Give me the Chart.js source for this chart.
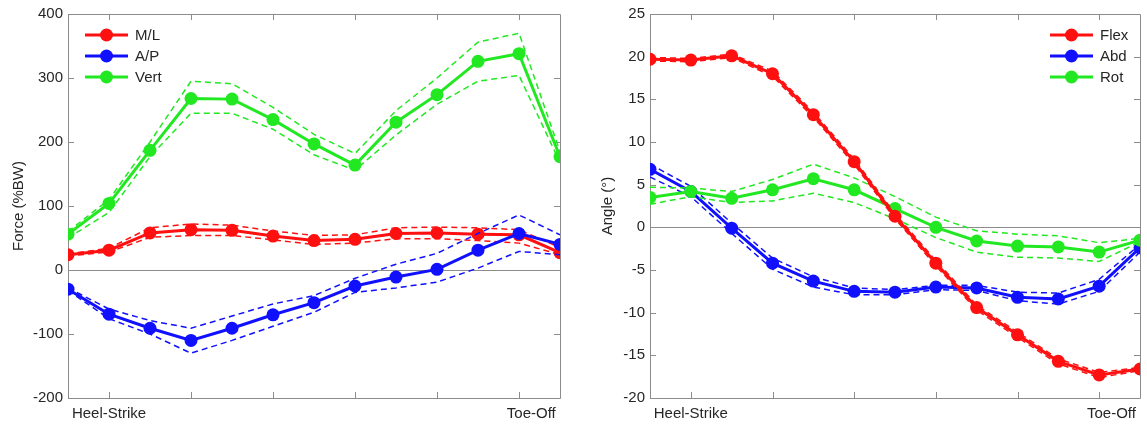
<!DOCTYPE html>
<html>
<head>
<meta charset="utf-8">
<script src="https://cdn.jsdelivr.net/npm/chart.js@4.4.1/dist/chart.umd.min.js"></script>
<style>
  body { margin: 0; background: #fff; }
  #wrap { position: relative; width: 1147px; height: 427px; }
  canvas { position: absolute; top: 0; }
</style>
</head>
<body>
<div id="wrap">
  <canvas id="forceChart" width="575" height="427" style="left:0"></canvas>
  <canvas id="angleChart" width="572" height="427" style="left:575px"></canvas>
</div>
<script>
// gait phase samples, x tick mark positions, and where the two phase labels sit
const phase = [0, 1, 2, 3, 4, 5, 6, 7, 8, 9, 10, 11, 12];
const phaseTicks = [1, 3, 5, 7, 9, 11];
const phaseLabelPos = [1, 11.3];
const phaseLabels = ['Heel-Strike', 'Toe-Off'];

// left panel: force (%BW), mean and upper/lower dashed bands
const forceML   = [24, 31, 58, 63, 62, 53, 46, 48, 57, 58, 56, 55, 27];
const forceMLHi = [25, 34, 66, 72, 70, 61, 54, 55, 66, 67, 66, 63, 35];
const forceMLLo = [22, 28, 51, 54, 54, 47, 40, 42, 49, 49, 46, 42, 24];
const forceAP   = [-30, -69, -91, -110, -91, -70, -51, -25, -11, 1, 31, 57, 40];
const forceAPHi = [-28, -61, -79, -91, -72, -53, -40, -13, 9, 26, 57, 86, 55];
const forceAPLo = [-32, -76, -100, -130, -110, -88, -66, -35, -28, -19, 3, 29, 24];
const forceVert   = [56, 104, 187, 268, 267, 235, 197, 164, 231, 274, 326, 338, 177];
const forceVertHi = [60, 110, 200, 295, 291, 254, 212, 182, 249, 300, 356, 370, 185];
const forceVertLo = [50, 90, 177, 245, 245, 220, 180, 156, 211, 259, 295, 304, 168];

// right panel: joint angle (deg)
const angFlex   = [19.7, 19.6, 20.1, 18.0, 13.2, 7.7, 1.3, -4.2, -9.4, -12.6, -15.7, -17.3, -16.6];
const angFlexHi = [19.9, 19.8, 20.3, 18.3, 13.5, 8.0, 1.6, -3.9, -9.1, -12.3, -15.4, -17.0, -16.4];
const angFlexLo = [19.5, 19.4, 19.9, 17.7, 12.9, 7.4, 1.0, -4.5, -9.7, -12.9, -16.0, -17.6, -16.8];
const angAbd   = [6.8, 4.2, -0.1, -4.2, -6.3, -7.5, -7.6, -7.0, -7.1, -8.2, -8.4, -6.9, -2.4];
const angAbdHi = [7.4, 4.8, 0.5, -3.6, -5.8, -7.1, -7.3, -6.8, -6.8, -7.6, -7.7, -6.1, -2.0];
const angAbdLo = [5.9, 3.6, -0.7, -4.9, -7.0, -7.9, -7.9, -7.3, -7.4, -8.6, -9.0, -7.5, -2.9];
const angRot   = [3.5, 4.2, 3.4, 4.4, 5.7, 4.4, 2.2, 0.0, -1.6, -2.2, -2.3, -2.9, -1.5];
const angRotHi = [4.7, 4.6, 4.2, 5.6, 7.4, 5.8, 3.6, 1.2, -0.4, -0.8, -1.0, -1.8, -1.3];
const angRotLo = [2.7, 3.6, 2.9, 3.1, 4.0, 2.9, 1.0, -1.2, -2.9, -3.5, -3.6, -4.0, -1.7];

const RED = '#ff1010', BLUE = '#1010ff', GREEN = '#22e822';
const AXIS = '#8c8c8c', TEXT = '#262626';
const FONT = { family: '"Liberation Sans", Arial, sans-serif', size: 15 };

const pts = arr => phase.map((p, i) => ({ x: p, y: arr[i] }));

function meanSet(label, arr, color) {
  return {
    label, data: pts(arr), borderColor: color, backgroundColor: color,
    borderWidth: 3, pointRadius: 6.5, pointBackgroundColor: color,
    pointBorderWidth: 0, tension: 0
  };
}
function bandSet(arr, color) {
  return {
    data: pts(arr), borderColor: color, borderWidth: 1.5, borderDash: [6, 4],
    pointRadius: 0, tension: 0
  };
}

// box, inward ticks, zero line and a matlab-ish legend
const frame = {
  id: 'frame',
  beforeDatasetsDraw(chart, args, opts) {
    const { ctx, chartArea: a, scales: { x, y } } = chart;
    ctx.save();
    ctx.strokeStyle = AXIS;
    ctx.lineWidth = 1;
    const y0 = Math.round(y.getPixelForValue(0)) + 0.5;
    ctx.beginPath();
    ctx.moveTo(a.left, y0); ctx.lineTo(a.right, y0);
    // box
    ctx.rect(Math.round(a.left) + 0.5, Math.round(a.top) + 0.5,
             Math.round(a.right - a.left), Math.round(a.bottom - a.top));
    // ticks
    phaseTicks.forEach(v => {
      const px = Math.round(x.getPixelForValue(v)) + 0.5;
      ctx.moveTo(px, a.bottom); ctx.lineTo(px, a.bottom - 6);
      ctx.moveTo(px, a.top); ctx.lineTo(px, a.top + 6);
    });
    y.ticks.forEach(t => {
      const py = Math.round(y.getPixelForValue(t.value)) + 0.5;
      ctx.moveTo(a.left, py); ctx.lineTo(a.left + 6, py);
      ctx.moveTo(a.right, py); ctx.lineTo(a.right - 6, py);
    });
    ctx.stroke();
    ctx.restore();
  },
  afterDraw(chart, args, opts) {
    const { ctx, chartArea: a } = chart;
    const items = chart.data.datasets.filter(d => d.label);
    items.sort((p, q) => opts.order.indexOf(p.label) - opts.order.indexOf(q.label));
    const x0 = opts.right ? a.right - opts.dx : a.left + opts.dx;
    ctx.save();
    ctx.font = FONT.size + 'px ' + FONT.family;
    ctx.textBaseline = 'middle';
    items.forEach((d, i) => {
      const yy = a.top + 21 + i * 21;
      ctx.strokeStyle = d.borderColor;
      ctx.lineWidth = 3;
      ctx.beginPath();
      ctx.moveTo(x0, yy); ctx.lineTo(x0 + 43, yy);
      ctx.stroke();
      ctx.fillStyle = d.borderColor;
      ctx.beginPath();
      ctx.arc(x0 + 21.5, yy, 6.5, 0, Math.PI * 2);
      ctx.fill();
      ctx.fillStyle = TEXT;
      ctx.fillText(d.label, x0 + 50, yy + 1);
    });
    ctx.restore();
  }
};

function makeChart(id, sets, yOpts, legendOpts, pad, yWidth) {
  return new Chart(document.getElementById(id), {
    type: 'line',
    data: { datasets: sets },
    options: {
      responsive: false,
      animation: false,
      layout: { padding: pad },
      plugins: { legend: { display: false }, tooltip: { enabled: false }, frame: legendOpts },
      scales: {
        x: {
          type: 'linear', min: 0, max: 12,
          afterBuildTicks: s => { s.ticks = phaseLabelPos.map(v => ({ value: v })); },
          afterFit: s => { s.height = 29; },
          grid: { display: false, drawTicks: false },
          border: { display: false },
          ticks: {
            autoSkip: false, maxRotation: 0, padding: 7, color: TEXT, font: FONT,
            callback: (v, i) => phaseLabels[i] || ''
          }
        },
        y: {
          min: yOpts.min, max: yOpts.max,
          afterFit: s => { s.width = yWidth; },
          grid: { display: false, drawTicks: false },
          border: { display: false },
          ticks: { stepSize: yOpts.step, padding: 5, color: TEXT, font: FONT },
          title: { display: true, text: yOpts.title, color: TEXT, font: FONT, padding: { top: yOpts.titlePad } }
        }
      }
    },
    plugins: [frame]
  });
}

makeChart('forceChart', [
  meanSet('Vert', forceVert, GREEN), bandSet(forceVertHi, GREEN), bandSet(forceVertLo, GREEN),
  meanSet('A/P', forceAP, BLUE), bandSet(forceAPHi, BLUE), bandSet(forceAPLo, BLUE),
  meanSet('M/L', forceML, RED), bandSet(forceMLHi, RED), bandSet(forceMLLo, RED)
], { min: -200, max: 400, step: 100, title: 'Force (%BW)', titlePad: 10 },
   { order: ['M/L', 'A/P', 'Vert'], right: false, dx: 17 },
   { top: 11, right: 15, bottom: 0, left: 0 }, 68);

makeChart('angleChart', [
  meanSet('Flex', angFlex, RED), bandSet(angFlexHi, RED), bandSet(angFlexLo, RED),
  meanSet('Rot', angRot, GREEN), bandSet(angRotHi, GREEN), bandSet(angRotLo, GREEN),
  meanSet('Abd', angAbd, BLUE), bandSet(angAbdHi, BLUE), bandSet(angAbdLo, BLUE)
], { min: -20, max: 25, step: 5, title: 'Angle (°)', titlePad: 24 },
   { order: ['Flex', 'Abd', 'Rot'], right: true, dx: 90 },
   { top: 12, right: 7, bottom: 0, left: 0 }, 75);
</script>
</body>
</html>
